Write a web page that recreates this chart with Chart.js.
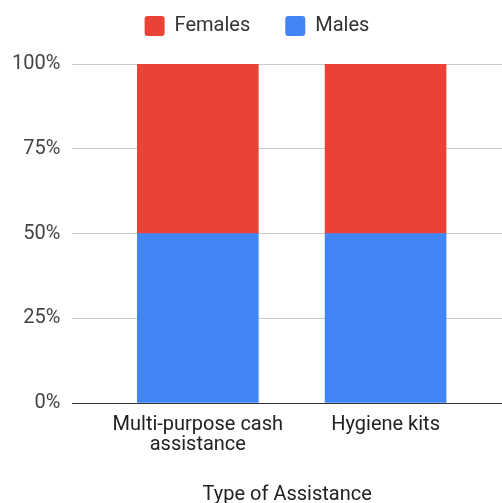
<!DOCTYPE html>
<html>
<head>
<meta charset="utf-8">
<script src="https://cdn.jsdelivr.net/npm/chart.js@4/dist/chart.umd.min.js"></script>
<style>
  html, body { margin: 0; padding: 0; background: #fff; }
  #wrap { width: 502px; height: 503px; }
</style>
</head>
<body>
<div id="wrap"><canvas id="chart"></canvas></div>
<script>
'use strict';

// categories (index on a linear x axis) and shares per group
const categories = [['Multi-purpose cash', 'assistance'], 'Hygiene kits'];
const males   = [50, 50];
const females = [50, 50];
const yTicks  = [0, 25, 50, 75, 100];

const FONT = 'Roboto, Arial, sans-serif';

// more room under the legend, and the legend nudged a little to the right
const legendTweak = {
  id: 'legendTweak',
  beforeInit(chart) {
    const legend = chart.legend;
    const fit = legend.fit;
    legend.fit = function () {
      fit.call(this);
      this.height += 18;
    };
    const draw = legend.draw;
    legend.draw = function () {
      this.ctx.save();
      this.ctx.translate(6, 0);
      draw.call(this);
      this.ctx.restore();
    };
  }
};

const ctx = document.getElementById('chart');

new Chart(ctx, {
  type: 'bar',
  data: {
    datasets: [
      {
        label: 'Males',
        data: males.map((v, i) => ({ x: i, y: v })),
        backgroundColor: '#4285f4',
        barThickness: 121
      },
      {
        label: 'Females',
        data: females.map((v, i) => ({ x: i, y: v })),
        backgroundColor: '#ea4335',
        barThickness: 121
      }
    ]
  },
  options: {
    responsive: true,
    maintainAspectRatio: false,
    animation: false,
    layout: { padding: { left: 0, right: 0, top: -19, bottom: -4 } },
    plugins: {
      tooltip: { enabled: false },
      legend: {
        position: 'top',
        reverse: true,
        labels: {
          boxWidth: 20,
          boxHeight: 20,
          padding: 35,
          color: '#333',
          font: { family: FONT, size: 20 },
          generateLabels: chart => Chart.defaults.plugins.legend.labels.generateLabels(chart)
            .map(l => ({ ...l, lineWidth: 0, borderRadius: 3 }))
        }
      }
    },
    scales: {
      x: {
        type: 'linear',
        offset: false,
        stacked: true,
        min: -0.668,
        max: 1.62,
        afterBuildTicks: axis => { axis.ticks = categories.map((c, i) => ({ value: i })); },
        ticks: {
          color: '#222',
          font: { family: FONT, size: 20, lineHeight: 1.0 },
          padding: 4,
          maxRotation: 0,
          autoSkip: false,
          callback: v => categories[v]
        },
        grid: { display: false, offset: false },
        border: { display: true, color: '#333', width: 1 },
        title: {
          display: true,
          text: 'Type of Assistance',
          color: '#222',
          font: { family: FONT, size: 20 },
          padding: { top: 24, bottom: 0 }
        }
      },
      y: {
        stacked: true,
        min: 0,
        max: 100,
        afterBuildTicks: axis => { axis.ticks = yTicks.map(v => ({ value: v })); },
        ticks: {
          color: '#444',
          font: { family: FONT, size: 20 },
          padding: 12,
          callback: v => v + '%'
        },
        grid: {
          color: c => c.tick && c.tick.value === 0 ? '#333' : '#cccccc',
          drawTicks: false
        },
        border: { display: false }
      }
    }
  },
  plugins: [legendTweak]
});
</script>
</body>
</html>
